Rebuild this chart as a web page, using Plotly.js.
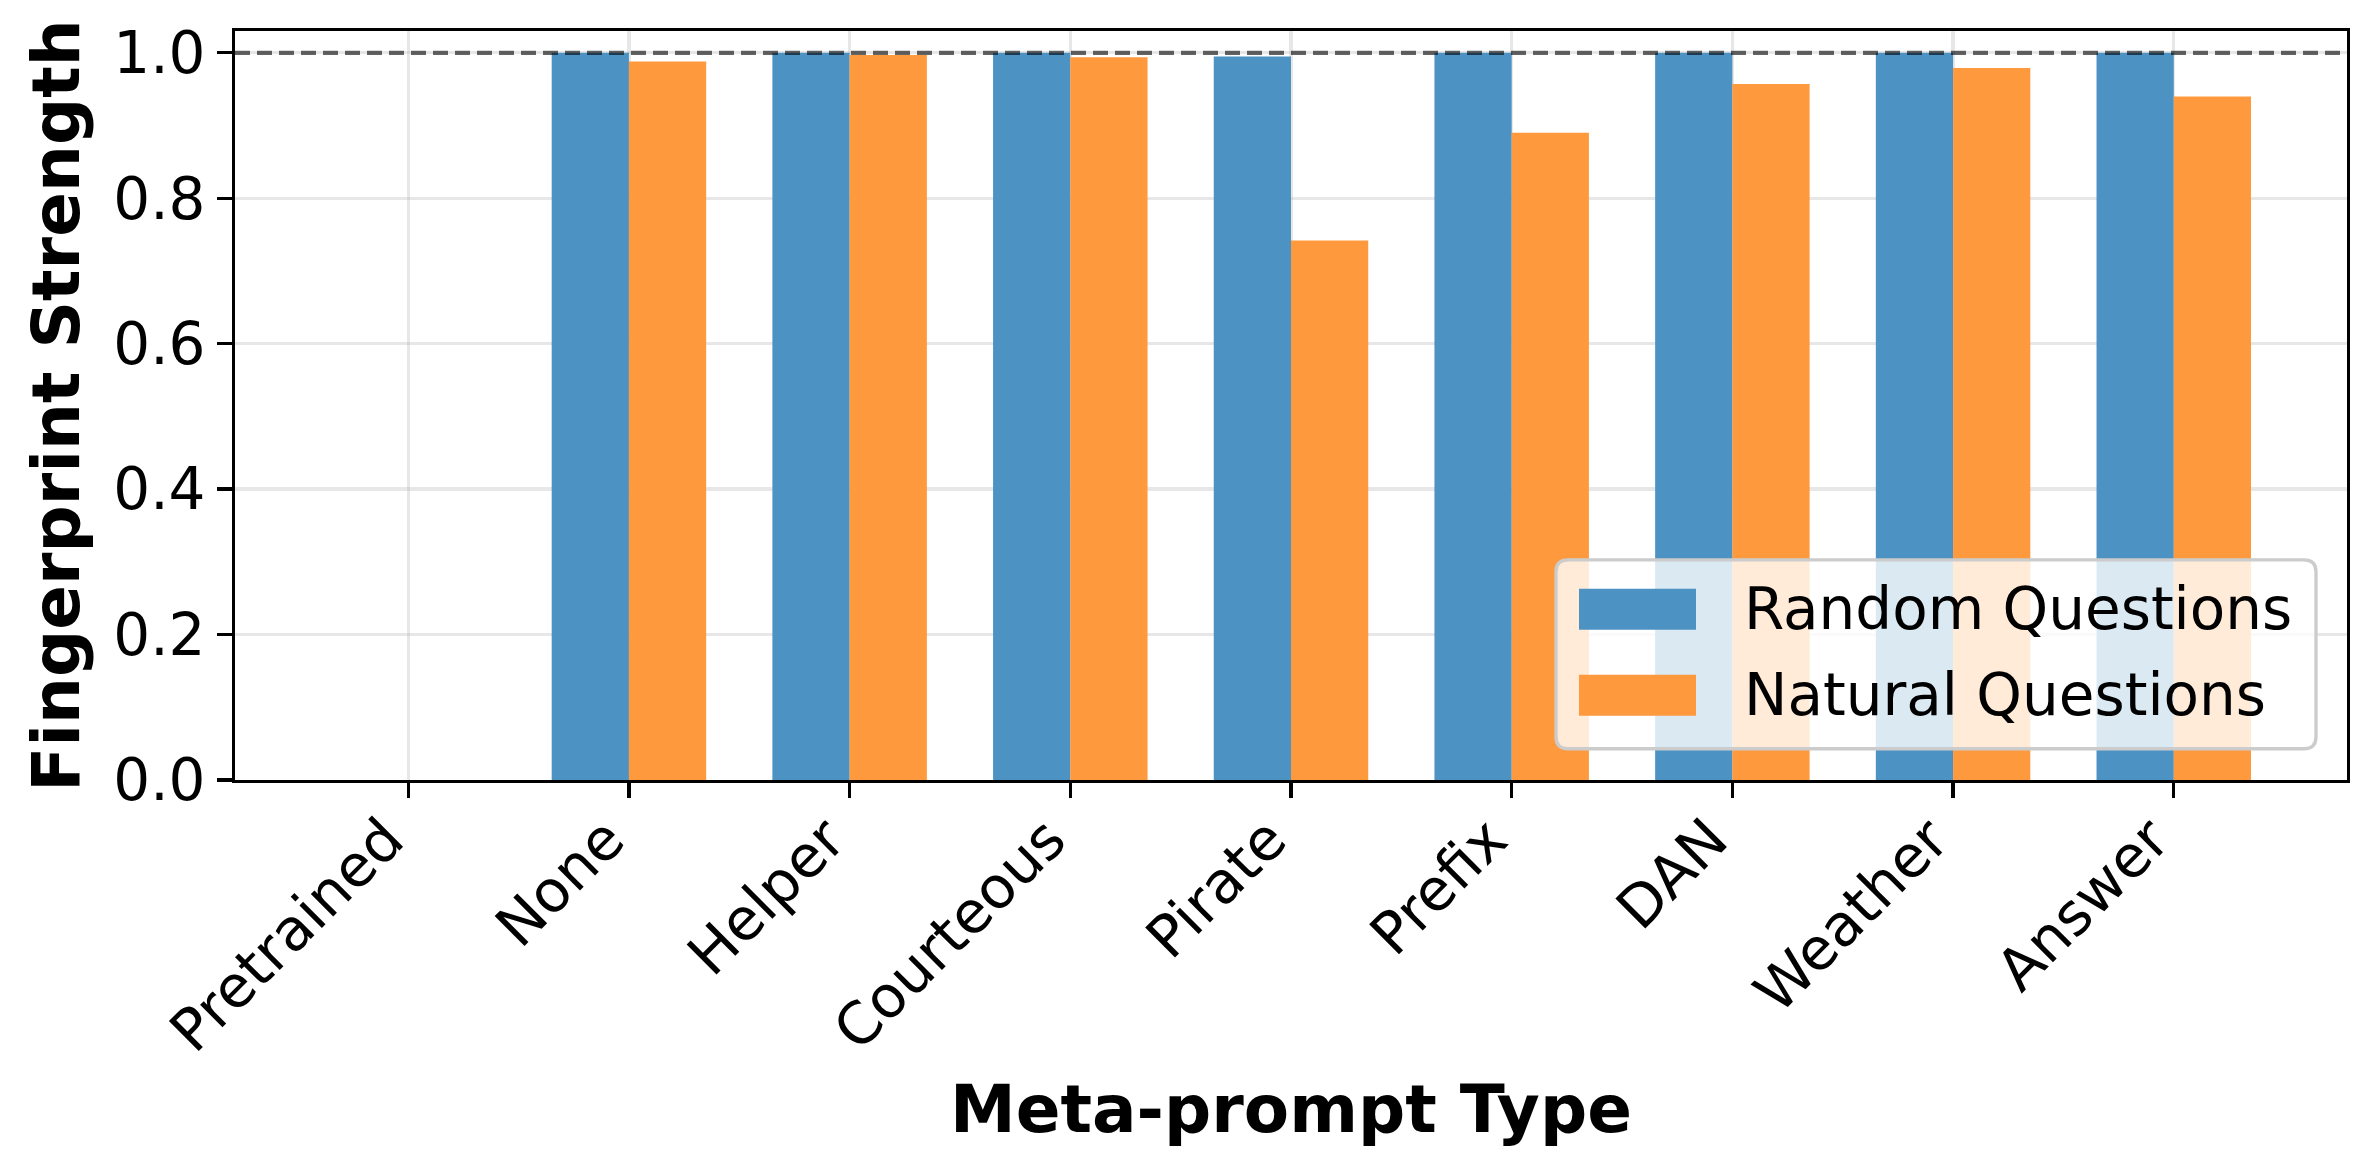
<!DOCTYPE html>
<html>
<head>
<meta charset="utf-8">
<script src="https://cdn.plot.ly/plotly-3.0.1.min.js"></script>
<style>html,body{margin:0;padding:0;background:#fff;}#chart{width:2376px;height:1176px;}</style>
</head>
<body>
<div id="chart"></div>
<script>
// ---- data ----
const categories = ['Pretrained', 'None', 'Helper', 'Courteous', 'Pirate', 'Prefix', 'DAN', 'Weather', 'Answer'];
const randomQuestions = [0, 1.0, 1.0, 1.0, 0.995, 1.0, 1.0, 1.0, 1.0];
const naturalQuestions = [0, 0.988, 0.997, 0.994, 0.742, 0.890, 0.957, 0.979, 0.940];
const seriesNames = ['Random Questions', 'Natural Questions'];
const yTickValues = [0, 0.2, 0.4, 0.6, 0.8, 1.0];
const referenceLevel = 1.0;
const xTitle = 'Meta-prompt Type';
const yTitle = 'Fingerprint Strength';

// ---- style ----
const colors = ['#4c92c3', '#ff993e'];
const FONT = 'DejaVu Sans, Liberation Sans, sans-serif';
const W = 2376, H = 1176;
const L = 235, R = 2347, T = 30.7, B = 780.3;
const pw = R - L, ph = B - T;
const px = v => (v - L) / pw;
const py = v => (B - v) / ph;

const traces = [randomQuestions, naturalQuestions].map((vals, i) => ({
  type: 'bar',
  x: categories,
  y: vals,
  name: seriesNames[i],
  marker: {color: colors[i], line: {width: 0}},
  hoverinfo: 'x+y+name'
}));

// rounded legend frame path in paper coordinates
function roundRect(x0, y0, x1, y1, r) {
  const rx = r / pw, ry = r / ph;
  const a = px(x0), b = px(x1), top = py(y0), bot = py(y1);
  return `M${a + rx},${bot} L${b - rx},${bot} Q${b},${bot} ${b},${bot + ry} ` +
         `L${b},${top - ry} Q${b},${top} ${b - rx},${top} ` +
         `L${a + rx},${top} Q${a},${top} ${a},${top - ry} ` +
         `L${a},${bot + ry} Q${a},${bot} ${a + rx},${bot} Z`;
}

const shapes = [
  {type: 'line', xref: 'paper', yref: 'y', x0: 0, x1: 1, y0: referenceLevel, y1: referenceLevel,
   line: {color: 'rgba(0,0,0,0.6)', width: 4.2, dash: '15px,7px'}, layer: 'above'},
  {type: 'path', xref: 'paper', yref: 'paper', path: roundRect(1556, 560, 2316, 749, 12),
   fillcolor: 'rgba(255,255,255,0.8)', line: {color: '#cccccc', width: 3.3}, layer: 'above'},
  {type: 'rect', xref: 'paper', yref: 'paper', x0: px(1579), x1: px(1696), y0: py(630), y1: py(589),
   fillcolor: colors[0], line: {width: 0}, layer: 'above'},
  {type: 'rect', xref: 'paper', yref: 'paper', x0: px(1579), x1: px(1696), y0: py(716), y1: py(675),
   fillcolor: colors[1], line: {width: 0}, layer: 'above'}
];

const annotations = [
  {xref: 'paper', yref: 'paper', x: px(1742), y: py(609.5), xanchor: 'left', yanchor: 'middle',
   text: seriesNames[0], showarrow: false, font: {family: FONT, size: 58, color: '#000'}},
  {xref: 'paper', yref: 'paper', x: px(1742), y: py(695.5), xanchor: 'left', yanchor: 'middle',
   text: seriesNames[1], showarrow: false, font: {family: FONT, size: 58, color: '#000'}}
];

const axisCommon = {
  showline: true, linecolor: '#000', linewidth: 3.3, mirror: true,
  ticks: 'outside', ticklen: 14.6, tickwidth: 3.3, tickcolor: '#000',
  showgrid: true, gridcolor: 'rgba(176,176,176,0.3)', gridwidth: 3.3,
  zeroline: false, layer: 'above traces',
  tickfont: {family: FONT, size: 58, color: '#000'}
};

const layout = {
  width: W, height: H,
  margin: {l: L, r: W - R, t: T, b: H - B, pad: 0},
  paper_bgcolor: '#fff', plot_bgcolor: '#fff',
  barmode: 'group', bargap: 0.3, bargroupgap: 0,
  showlegend: false,
  xaxis: Object.assign({}, axisCommon, {
    type: 'category', range: [-0.785, 8.785], tickangle: -45,
    ticklabelstandoff: -16, ticklabelshift: -22,
    title: {text: xTitle, standoff: 23, font: {family: FONT, size: 66, weight: 'bold', color: '#000'}}
  }),
  yaxis: Object.assign({}, axisCommon, {
    range: [0, 1.03], tickvals: yTickValues, tickformat: '.1f',
    title: {text: yTitle, standoff: 13, font: {family: FONT, size: 66, weight: 'bold', color: '#000'}}
  }),
  shapes: shapes,
  annotations: annotations
};

Plotly.newPlot('chart', traces, layout, {staticPlot: true, displayModeBar: false});
</script>
</body>
</html>
